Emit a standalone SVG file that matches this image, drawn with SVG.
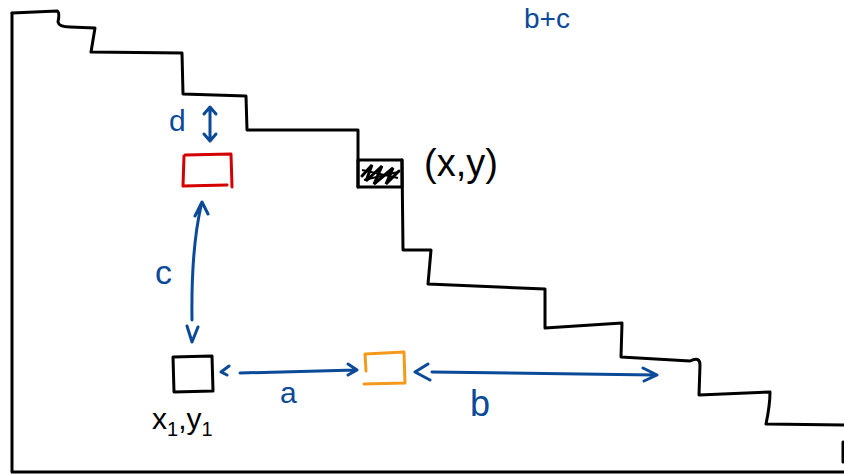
<svg xmlns="http://www.w3.org/2000/svg" width="844" height="475" viewBox="0 0 844 475">
<style>
.ink{fill:none;stroke:#000;stroke-width:3;stroke-linecap:round;stroke-linejoin:round}
.blue{fill:none;stroke:#0b4a99;stroke-width:3;stroke-linecap:round;stroke-linejoin:round}
.lbl{font-family:"Liberation Sans",Arial,sans-serif;fill:#0b4a99}
.blk{font-family:"Liberation Sans",Arial,sans-serif;fill:#000}
</style>
<rect width="844" height="475" fill="#fff"/>
<!-- axes -->
<path class="ink" d="M12,13 L12,472 L844,472"/>
<!-- staircase -->
<path class="ink" d="M12,13 L57,11 Q60,12 58,22 Q59,27 70,27 L95,28 Q93,40 91,52 L182,53 L183,94 L246,96 L247,130 L358,130 L358,187"/>
<path class="ink" d="M402,160 L403,250 L431,250 L428,284 L545,289 L545,328 L622,323 L621,357 L690,361 Q700,356 700,365 L699,395 L770,392 Q770,405 766,424 L844,425"/>
<path class="ink" d="M843,442 L843,462"/>
<!-- top label -->
<text class="lbl" x="524" y="28" font-size="28">b+c</text>
<g id="node-xy">
<rect x="358" y="160" width="44" height="27" class="ink"/>
<path fill="none" stroke="#000" stroke-width="3" stroke-linecap="round" d="M362,176 L372,165 L366,181 L382,166 L374,184 L393,168 L386,184 L399,171"/>
<path fill="none" stroke="#000" stroke-width="2" d="M362,170 L398,178 M364,180 L398,172"/>
<text class="blk" x="424" y="176" font-size="38">(x,y)</text>
</g>
<g id="node-red">
<path fill="none" stroke="#d40000" stroke-width="3" stroke-linejoin="round" stroke-linecap="round" d="M185,155 L231,154 L232,187 M184,156 L183,186 L227,185"/>
</g>
<g id="node-x1y1">
<path class="ink" d="M173,357 L212,356 L213,391 L174,392 Z"/>
<text class="blk" x="152" y="429" font-size="30">x<tspan font-size="20" dy="7">1</tspan><tspan dy="-7">,</tspan>y<tspan font-size="20" dy="7">1</tspan></text>
</g>
<g id="node-orange">
<path fill="none" stroke="#f39a1c" stroke-width="3" stroke-linejoin="round" stroke-linecap="round" d="M365,354 L404,352 L405,383 L364,384 M365,354 L366,371"/>
</g>
<g id="connectors">
<!-- d -->
<path class="blue" d="M210,108 L210,140 M204,114 L210,107 L216,114 M204,134 L210,141 L216,134"/>
<!-- c -->
<path class="blue" d="M201,206 Q191,250 192,320 M195,216 L202,202 L208,214 M187,326 L192,342 L198,327"/>
<!-- a -->
<path class="blue" d="M240,373 L356,370 M229,366 L221,372 L227,375 M348,364 L357,370 L348,375"/>
<!-- b -->
<path class="blue" d="M432,372 Q520,373 655,375 M428,364 L415,372 L430,380 M643,368 L657,375 L644,381"/>
</g>
<text class="lbl" x="169" y="131" font-size="30">d</text>
<text class="lbl" x="155" y="284" font-size="34">c</text>
<text class="lbl" x="280" y="403" font-size="30">a</text>
<text class="lbl" x="470" y="416" font-size="36">b</text>
</svg>
